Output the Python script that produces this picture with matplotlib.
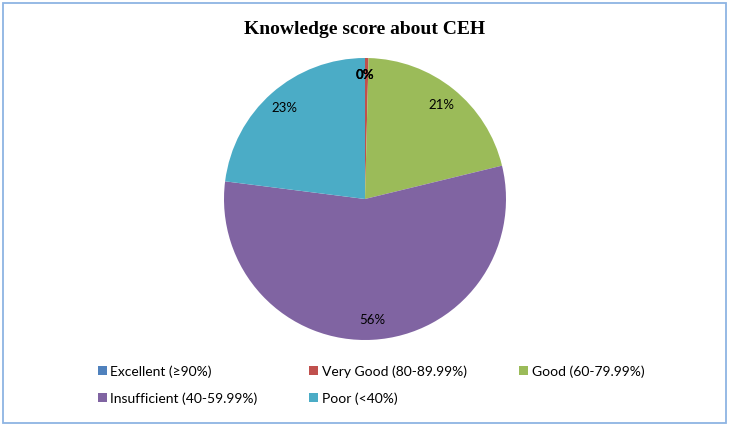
import matplotlib
matplotlib.use("Agg")
import matplotlib.pyplot as plt
from matplotlib.patches import Rectangle

# Knowledge score categories and shares (%)
categories = ["Excellent (≥90%)", "Very Good (80-89.99%)", "Good (60-79.99%)",
              "Insufficient (40-59.99%)", "Poor (<40%)"]
shares = [0.0, 0.4, 20.8, 55.8, 23.0]
colors = ["#4F81BD", "#C0504D", "#9BBB59", "#8064A2", "#4BACC6"]

W, H = 729, 426
fig = plt.figure(figsize=(W / 100, H / 100), dpi=100)
fig.patch.set_facecolor("white")

# outer frame
fig.patches.append(Rectangle((3 / W, 3 / H), 723 / W, 420 / H, transform=fig.transFigure,
                             fill=False, edgecolor="#8EB4E3", linewidth=1.3))

fig.text(0.5, 1 - 29 / H, "Knowledge score about CEH", ha="center", va="center",
         fontsize=14, fontweight="bold", family="Liberation Serif")

cx, cy, r = 365, 199, 141
ax = fig.add_axes([(cx - r) / W, (H - cy - r) / H, 2 * r / W, 2 * r / H])
wedges, texts, autotexts = ax.pie(
    shares, colors=colors, startangle=90, counterclock=False,
    autopct=lambda p: f"{p:.0f}%", pctdistance=0.86,
    wedgeprops=dict(linewidth=0), textprops=dict(fontsize=9.5, family="Lato"))
# the two 0% labels sit on top of each other at the top of the pie
for t in autotexts[:2]:
    t.set_fontweight("bold")
    t.set_position((0.0, 0.88))
ax.set_xlim(-1, 1)
ax.set_ylim(-1, 1)
ax.set_aspect("equal")
ax.axis("off")

# legend laid out row by row, one legend per column
columns = [([0, 3], 98), ([1, 4], 309), ([2], 519)]
for idx, x0 in columns:
    leg = fig.legend([wedges[i] for i in idx], [categories[i] for i in idx],
                     loc="upper left", bbox_to_anchor=(x0 / W, 1 - 365 / H),
                     frameon=False, prop=dict(family="Lato", size=10),
                     handlelength=0.65, handleheight=0.65, handletextpad=0.25,
                     labelspacing=1.05, borderpad=0, borderaxespad=0)

fig.savefig("out.png", dpi=100)
